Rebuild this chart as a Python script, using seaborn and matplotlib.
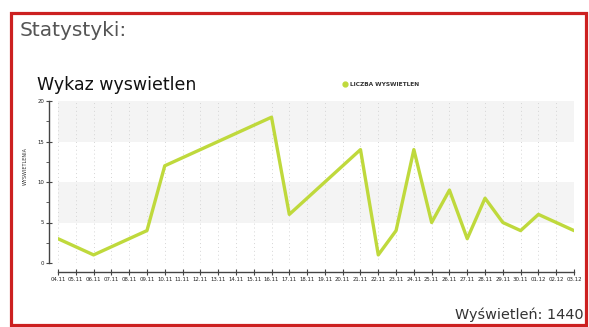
import matplotlib
matplotlib.use("Agg")
import matplotlib.pyplot as plt
from matplotlib.patches import Rectangle
from matplotlib.lines import Line2D
import seaborn as sns
import pandas as pd

# ---- data ----
dates = ["04.11", "05.11", "06.11", "07.11", "08.11", "09.11", "10.11", "11.11",
         "12.11", "13.11", "14.11", "15.11", "16.11", "17.11", "18.11", "19.11",
         "20.11", "21.11", "22.11", "23.11", "24.11", "25.11", "26.11", "27.11",
         "28.11", "29.11", "30.11", "01.12", "02.12", "03.12"]
views = [3, 2, 1, 2, 3, 4, 12, 13, 14, 15, 16, 17, 18, 6, 8, 10,
         12, 14, 1, 4, 14, 5, 9, 3, 8, 5, 4, 6, 5, 4]
yticks = [0, 5, 10, 15, 20]
header = "Statystyki:"
title = "Wykaz wyswietlen"
legend_label = "LICZBA WYSWIETLEN"
ylabel = "WYSWIETLENIA"
footer = "Wyświetleń: 1440"

sns.set_theme(style="white")
plt.rcParams['font.family'] = ['DejaVu Sans']

W, H = 589, 327
fig = plt.figure(figsize=(W / 100, H / 100), dpi=100)
fig.patch.set_facecolor("white")

# red frame
fig.add_artist(Rectangle((11 / W, 2 / H), (586 - 11) / W, (314 - 2) / H,
                         transform=fig.transFigure, fill=False,
                         edgecolor="#cc2020", linewidth=2.3))

fig.text(20 / W, 1 - 30 / H, header, fontsize=14.5, color="#555555", va="center")
fig.text(37 / W, 1 - 85 / H, title, fontsize=12.5, color="#111111", va="center")

ax = fig.add_axes([58 / W, 1 - 263 / H, (574 - 58) / W, (263 - 101) / H])
ax.set_facecolor("white")
for lo, hi in [(5, 10), (15, 20)]:
    ax.axhspan(lo, hi, color="#f4f4f4", zorder=0, linewidth=0)

df = pd.DataFrame({"dzien": list(range(len(dates))), "wyswietlenia": views})
line_color = "#bfd93c"
sns.lineplot(data=df, x="dzien", y="wyswietlenia", color=line_color,
             linewidth=2.4, ax=ax, zorder=3)

ax.set_xlim(0, len(dates) - 1)
ax.set_ylim(yticks[0], yticks[-1])
ax.set_xticks(range(len(dates)))
ax.set_xticklabels(dates)
ax.set_yticks(yticks)
ax.set_yticklabels([str(t) for t in yticks])
ax.set_yticks([2.5, 7.5, 12.5, 17.5], minor=True)
ax.grid(axis="x", linestyle=(0, (1, 3)), color="#d5d5d5", linewidth=0.7)
ax.set_xlabel("")
ax.set_ylabel("")

for s in ["top", "right"]:
    ax.spines[s].set_visible(False)
for s in ["left", "bottom"]:
    ax.spines[s].set_position(("outward", 6.5))
    ax.spines[s].set_color("#444444")
    ax.spines[s].set_linewidth(1.0)
ax.tick_params(axis="both", which="major", direction="inout", length=4,
               width=0.8, color="#444444", pad=1.5, left=True, bottom=True,
               labelsize=3.9, labelcolor="#222222")
ax.tick_params(axis="y", which="minor", direction="out", length=2,
               width=0.6, color="#444444", left=True)

fig.text(25 / W, 1 - 166 / H, ylabel, fontsize=3.5, rotation=90,
         color="#333333", va="center", ha="center")

# legend
fig.add_artist(Line2D([345 / W], [1 - 84 / H], marker="o", markersize=3.5,
                      color=line_color, transform=fig.transFigure))
fig.text(350 / W, 1 - 84 / H, legend_label, fontsize=4.2, color="#333333",
         va="center", fontweight="bold")

fig.text(455 / W, 1 - 315 / H, footer, fontsize=10.4, color="#333333", va="center")

fig.savefig("out.png", dpi=100, facecolor="white")
